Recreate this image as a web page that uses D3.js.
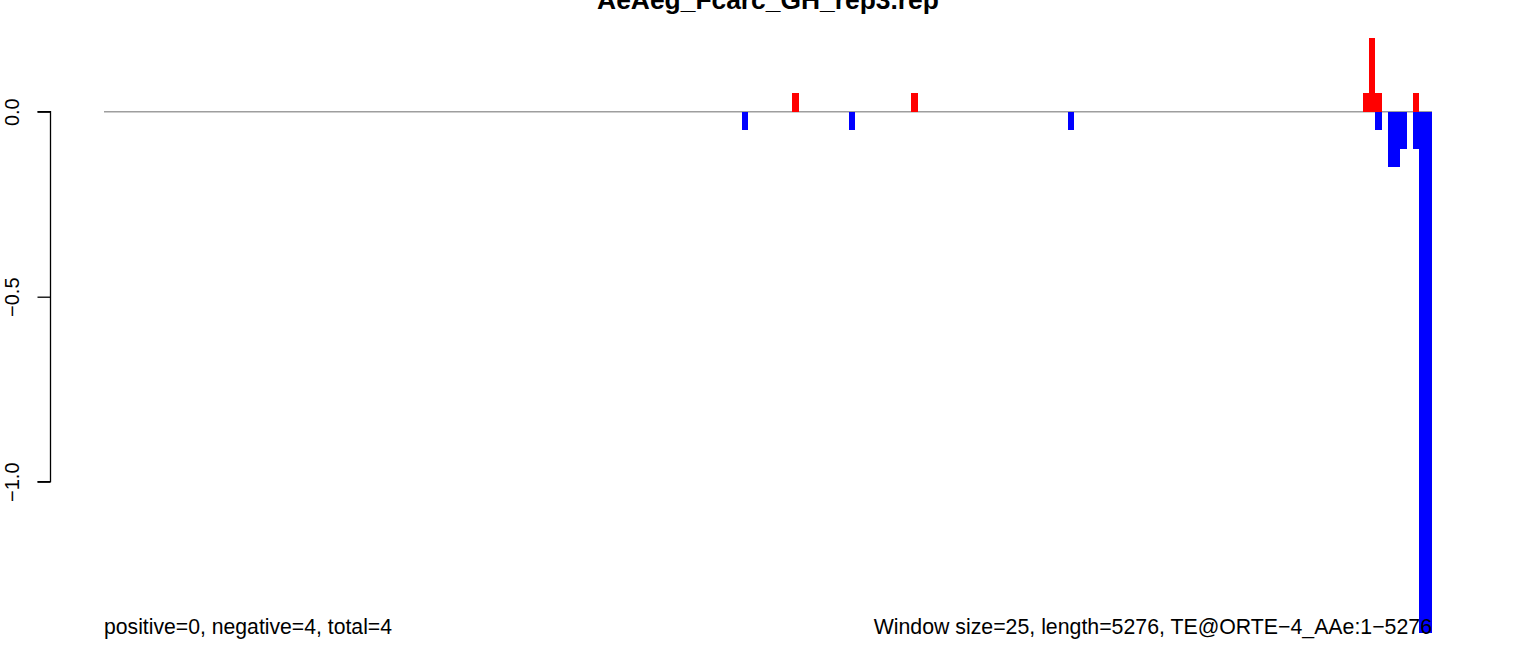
<!DOCTYPE html>
<html>
<head>
<meta charset="utf-8">
<script src="https://cdn.jsdelivr.net/npm/d3@7"></script>
<style>
  html, body { margin: 0; padding: 0; background: #fff; }
  svg { display: block; }
  text { font-family: "Liberation Sans", Arial, Helvetica, sans-serif; }
</style>
</head>
<body>
<svg id="chart" width="1536" height="656"></svg>
<script>
const chartTitle = "AeAeg_Fcarc_GH_rep3.rep";
const windowSize = 25;
const seqLength = 5276;
const posBins = [109, 128, 200, 201, 202, 208];
const posVals = [0.05, 0.05, 0.05, 0.2, 0.05, 0.05];
const negBins = [101, 118, 153, 202, 204, 205, 206, 208, 209, 210];
const negVals = [-0.05, -0.05, -0.05, -0.05, -0.15, -0.15, -0.1, -0.1, -1.41, -1.41];
const yTicks = [0, -0.5, -1.0];
const yTickLabels = ["0.0", "\u22120.5", "\u22121.0"];
const leftNote = "positive=0, negative=4, total=4";
const rightNote = "Window size=25, length=5276, TE@ORTE\u22124_AAe:1\u22125276";

const svg = d3.select("#chart");
const x = d3.scaleLinear().domain([-20, seqLength]).range([104, 1432]);
const y = d3.scaleLinear().domain([0, -1]).range([111.7, 481.7]);

// zero line
svg.append("line")
  .attr("x1", x(-20)).attr("x2", x(seqLength))
  .attr("y1", y(0)).attr("y2", y(0))
  .attr("stroke", "#9e9e9e").attr("stroke-width", 1.4);

const pos = posBins.map((b, i) => ({b, v: posVals[i]}));
const neg = negBins.map((b, i) => ({b, v: negVals[i]}));

svg.append("g").attr("shape-rendering", "crispEdges").selectAll("rect").data(pos).join("rect")
  .attr("x", d => x(d.b * windowSize))
  .attr("width", d => x((d.b + 1) * windowSize) - x(d.b * windowSize))
  .attr("y", d => y(d.v))
  .attr("height", d => y(0) - y(d.v))
  .attr("fill", "#ff0000");

svg.append("g").attr("shape-rendering", "crispEdges").selectAll("rect").data(neg).join("rect")
  .attr("x", d => x(d.b * windowSize))
  .attr("width", d => x((d.b + 1) * windowSize) - x(d.b * windowSize))
  .attr("y", y(0))
  .attr("height", d => y(d.v) - y(0))
  .attr("fill", "#0000ff");

// y axis
const axis = d3.axisLeft(y).tickValues(yTicks).tickFormat((d, i) => yTickLabels[i]).tickSize(13).tickPadding(0);
const gAxis = svg.append("g").attr("transform", "translate(50.5,0)").call(axis);
gAxis.select(".domain").attr("d", `M-13,${y(0)}H0V${y(-1)}H-13`).attr("stroke", "#000").attr("stroke-width", 1.3).attr("fill", "none");
gAxis.selectAll(".tick line").attr("stroke", "#000").attr("stroke-width", 1.3);
gAxis.selectAll(".tick text")
  .attr("font-size", 20)
  .attr("fill", "#000")
  .attr("text-anchor", "middle")
  .attr("dy", null)
  .attr("x", null)
  .attr("transform", "translate(-32,0) rotate(-90)");

// title
svg.append("text")
  .attr("x", 768).attr("y", 9)
  .attr("text-anchor", "middle")
  .attr("font-weight", "bold")
  .attr("font-size", 26.4)
  .text(chartTitle);

svg.append("text")
  .attr("x", 104).attr("y", 634)
  .attr("font-size", 21.2)
  .text(leftNote);

svg.append("text")
  .attr("x", 1432).attr("y", 634)
  .attr("text-anchor", "end")
  .attr("font-size", 21.3)
  .text(rightNote);
</script>
</body>
</html>
